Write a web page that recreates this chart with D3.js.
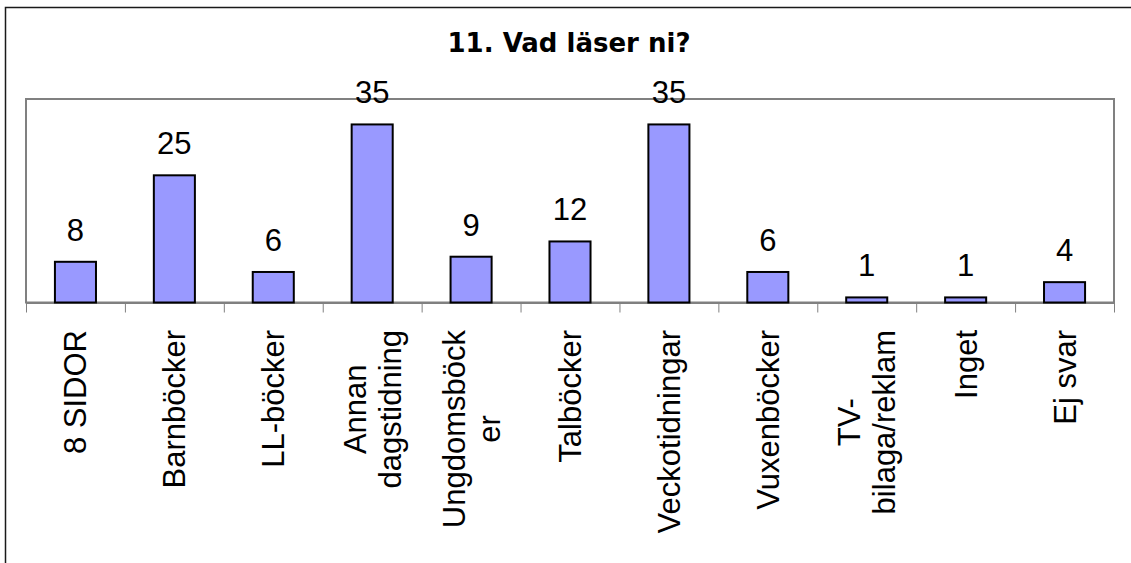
<!DOCTYPE html>
<html>
<head>
<meta charset="utf-8">
<script src="https://cdnjs.cloudflare.com/ajax/libs/d3/7.8.5/d3.min.js"></script>
<style>
  body { margin: 0; background: #fff; }
  svg { display: block; }
</style>
</head>
<body>
<div id="viz"></div>
<script>
var categories = [
  ['8 SIDOR'],
  ['Barnböcker'],
  ['LL-böcker'],
  ['Annan', 'dagstidning'],
  ['Ungdomsböck', 'er'],
  ['Talböcker'],
  ['Veckotidningar'],
  ['Vuxenböcker'],
  ['TV-', 'bilaga/reklam'],
  ['Inget'],
  ['Ej svar']
];
var values = [8, 25, 6, 35, 9, 12, 35, 6, 1, 1, 4];
var title = '11. Vad läser ni?';

var W = 1131, H = 563,
    plot = {left: 26, right: 1114, top: 99, bottom: 302.5},
    labelFont = 31;

var svg = d3.select('#viz').append('svg')
  .attr('width', W)
  .attr('height', H);

// outer chart frame (runs off the right and bottom edges)
svg.append('rect')
  .attr('x', 5.5).attr('y', 7.5)
  .attr('width', W + 10).attr('height', H + 10)
  .attr('fill', 'none')
  .attr('stroke', '#1a1a1a')
  .attr('stroke-width', 1.5);

svg.append('text')
  .attr('x', 569).attr('y', 52)
  .attr('text-anchor', 'middle')
  .style('font-family', '"DejaVu Sans", Verdana, sans-serif')
  .style('font-weight', 'bold')
  .style('font-size', '26px')
  .text(title);

var keys = d3.range(values.length);

var xScale = d3.scaleBand()
  .domain(keys)
  .range([plot.left, plot.right])
  .paddingInner(0.585)
  .paddingOuter(0.2925);

var yScale = d3.scaleLinear()
  .domain([0, 40])
  .range([plot.bottom, plot.top]);

var edges = d3.scaleLinear()
  .domain([0, values.length])
  .range([plot.left, plot.right]);

// plot area border
svg.append('rect')
  .attr('x', plot.left).attr('y', plot.top)
  .attr('width', plot.right - plot.left)
  .attr('height', plot.bottom - plot.top)
  .attr('fill', 'none')
  .attr('stroke', '#808080')
  .attr('stroke-width', 2);

var xAxis = d3.axisBottom(edges)
  .tickValues(d3.range(values.length + 1))
  .tickSize(10)
  .tickSizeOuter(0)
  .tickFormat('');

var xGuide = svg.append('g')
  .attr('transform', 'translate(0,' + plot.bottom + ')')
  .call(xAxis);
xGuide.select('.domain').attr('stroke', '#808080').attr('stroke-width', 2);
xGuide.selectAll('.tick line').attr('stroke', '#808080').attr('stroke-width', 1);

svg.append('g').selectAll('rect').data(keys)
  .enter().append('rect')
    .attr('x', function(d) { return xScale(d); })
    .attr('y', function(d) { return yScale(values[d]); })
    .attr('width', xScale.bandwidth())
    .attr('height', function(d) { return plot.bottom - yScale(values[d]); })
    .attr('fill', '#9999FF')
    .attr('stroke', '#000')
    .attr('stroke-width', 2);

svg.append('g').selectAll('text').data(keys)
  .enter().append('text')
    .attr('x', function(d) { return xScale(d) + xScale.bandwidth() / 2; })
    .attr('y', function(d) { return yScale(values[d]) - 21; })
    .attr('text-anchor', 'middle')
    .style('font-family', '"Liberation Sans", Arial, sans-serif')
    .style('font-size', labelFont + 'px')
    .text(function(d) { return values[d]; });

// rotated category labels, lines centred on each other, top edge near the axis
var lineH = 35, capHalf = 11, labelTop = 330;
var labelGroups = svg.append('g').selectAll('g').data(keys)
  .enter().append('g');

labelGroups.each(function(d) {
  var g = d3.select(this),
      lines = categories[d],
      cx = edges(d + 0.5),
      n = lines.length;
  var t = g.append('text')
    .attr('text-anchor', 'middle')
    .style('font-family', '"Liberation Sans", Arial, sans-serif')
    .style('font-size', labelFont + 'px');
  lines.forEach(function(line, k) {
    t.append('tspan')
      .attr('x', 0)
      .attr('y', (k - (n - 1) / 2) * lineH + capHalf)
      .text(line);
  });
  var maxLen = 0;
  t.selectAll('tspan').each(function() {
    maxLen = Math.max(maxLen, this.getComputedTextLength());
  });
  g.attr('transform', 'translate(' + cx + ',' + (labelTop + maxLen / 2) + ') rotate(-90)');
});
</script>
</body>
</html>
